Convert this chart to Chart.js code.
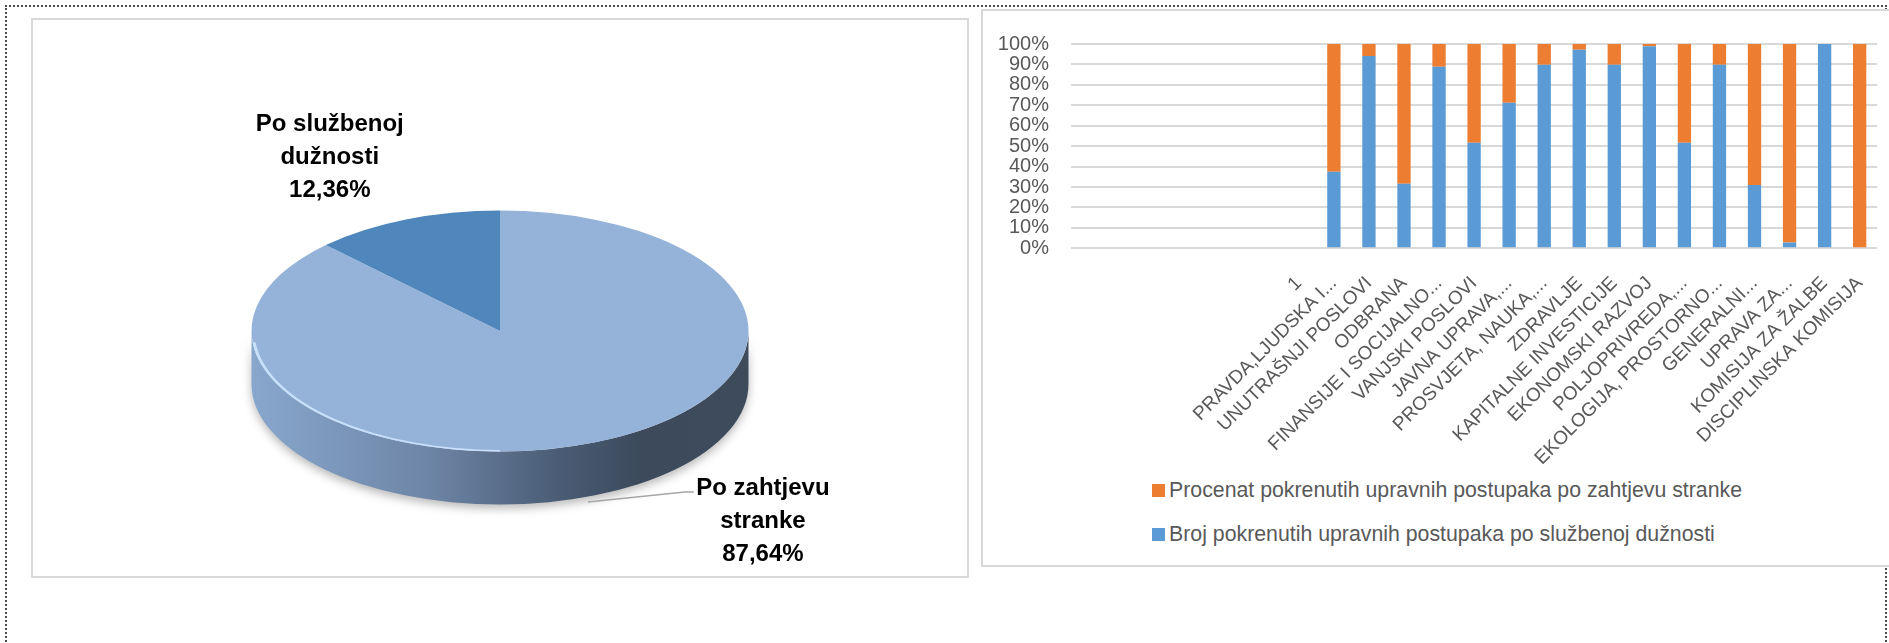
<!DOCTYPE html>
<html lang="sr">
<head>
<meta charset="utf-8">
<title>Upravni postupci</title>
<script src="https://cdn.jsdelivr.net/npm/chart.js@4.4.1/dist/chart.umd.min.js"></script>
<style>
    html, body { margin: 0; padding: 0; background: #fff; }
    body {
        width: 1889px; height: 643px; overflow: hidden; position: relative;
        font-family: "Liberation Sans", Arial, sans-serif;
    }
    .page-border {
        position: absolute; left: 5px; top: 5px; width: 1882px; height: 720px;
        border: 2px dotted #4d4d4d; box-sizing: border-box;
    }
    .box { position: absolute; border: 2px solid #d9d9d9; box-sizing: border-box; background: #fff; }
    #pieBox { left: 31px; top: 18px; width: 938px; height: 560px; }
    #barBox { left: 981px; top: 9px; width: 940px; height: 558px; }
    .chart-wrap { position: absolute; }
    #pieWrap { left: 33px; top: 20px; width: 934px; height: 556px; }
    #barWrap { left: 982px; top: 10px; width: 910px; height: 460px; }
    #barLegend { position: absolute; left: 1152px; top: 478px; }
    .legend-row { display: flex; align-items: center; height: 24px; margin-bottom: 20px; }
    .legend-box { width: 13px; height: 13px; margin-right: 4px; }
    .legend-text { font-size: 21.3px; color: #595959; white-space: nowrap; }
</style>
</head>
<body>
<div class="page-border"></div>
<div class="box" id="pieBox"></div>
<div class="box" id="barBox"></div>
<div class="chart-wrap" id="pieWrap"><canvas id="pieChart"></canvas></div>
<div class="chart-wrap" id="barWrap"><canvas id="barChart"></canvas></div>
<div id="barLegend"></div>

<script>
// Pie data
const pieLabels = ['Po zahtjevu stranke', 'Po službenoj dužnosti'];
const pieLabelLines = [['Po zahtjevu', 'stranke'], ['Po službenoj', 'dužnosti']];
const pieValues = [87.64, 12.36];
const pieColors = ['#95b3d9', '#4f86bb'];

// Bar data (100% stacked)
const categories = [
    '', '', '', '', '', '', '1',
    'PRAVDA,LJUDSKA I...',
    'UNUTRAŠNJI POSLOVI',
    'ODBRANA',
    'FINANSIJE I SOCIJALNO...',
    'VANJSKI POSLOVI',
    'JAVNA UPRAVA,...',
    'PROSVJETA, NAUKA,...',
    'ZDRAVLJE',
    'KAPITALNE INVESTICIJE',
    'EKONOMSKI RAZVOJ',
    'POLJOPRIVREDA,...',
    'EKOLOGIJA, PROSTORNO...',
    'GENERALNI...',
    'UPRAVA ZA...',
    'KOMISIJA ZA ŽALBE',
    'DISCIPLINSKA KOMISIJA'
];
const sluzbenaValues = [null, null, null, null, null, null, null,
    37.5, 94.1, 31.6, 88.9, 51.7, 71.2, 89.9, 97.2, 89.9, 98.9, 51.7, 89.9, 31.0, 2.8, 100, 0];
const zahtjevValues = [null, null, null, null, null, null, null,
    62.5, 5.9, 68.4, 11.1, 48.3, 28.8, 10.1, 2.8, 10.1, 1.1, 48.3, 10.1, 69.0, 97.2, 0, 100];
const yTicks = [0, 10, 20, 30, 40, 50, 60, 70, 80, 90, 100];

const seriesNames = [
    'Broj pokrenutih upravnih postupaka po službenoj dužnosti',
    'Procenat pokrenutih upravnih postupaka po zahtjevu stranke'
];
const seriesColors = ['#5b9bd5', '#ed7d31'];

const FONT = '"Liberation Sans", Arial, sans-serif';
Chart.defaults.font.family = FONT;

function formatPct(v) {
    return v.toFixed(2).replace('.', ',') + '%';
}

// tilts the pie into an ellipse and draws the side wall under it
const pie3d = {
    id: 'pie3d',
    beforeDatasetsDraw(chart, args, opts) {
        const arc = chart.getDatasetMeta(0).data[0];
        const x = arc.x, y = arc.y, r = arc.outerRadius;
        const ry = r * opts.tilt;
        const ctx = chart.ctx;

        ctx.save();
        const g = ctx.createLinearGradient(x - r, 0, x + r, 0);
        g.addColorStop(0, '#88a7cd');
        g.addColorStop(0.35, '#6e86a7');
        g.addColorStop(0.62, '#4a5c75');
        g.addColorStop(0.78, '#3c4a5c');
        g.addColorStop(1, '#3e4b5b');
        ctx.shadowColor = 'rgba(0,0,0,0.28)';
        ctx.shadowBlur = 10;
        ctx.shadowOffsetY = 4;
        ctx.beginPath();
        ctx.ellipse(x, y, r, ry, 0, 0, Math.PI);
        ctx.ellipse(x, y + opts.depth, r, ry, 0, Math.PI, 0, true);
        ctx.closePath();
        ctx.fillStyle = g;
        ctx.fill();
        ctx.restore();

        ctx.save();
        ctx.translate(x, y);
        ctx.scale(1, opts.tilt);
        ctx.translate(-x, -y);
    },
    afterDatasetsDraw(chart) {
        const arc = chart.getDatasetMeta(0).data[0];
        const ctx = chart.ctx;
        // light rim on the lower left edge
        ctx.beginPath();
        ctx.arc(arc.x, arc.y, arc.outerRadius - 1.5, Math.PI * 0.5, Math.PI * 0.97);
        ctx.strokeStyle = 'rgba(205,228,255,0.9)';
        ctx.lineWidth = 3;
        ctx.stroke();
        ctx.restore();
    }
};

const pieLabelPlugin = {
    id: 'pieLabels',
    afterDraw(chart, args, opts) {
        const meta = chart.getDatasetMeta(0);
        const ctx = chart.ctx;
        ctx.save();
        meta.data.forEach((arc, i) => {
            const r = arc.outerRadius;
            const pos = opts.positions[i];
            if (pos.leader) {
                ctx.beginPath();
                pos.leader.forEach((p, j) => {
                    const px = arc.x + p[0] * r, py = arc.y + p[1] * r;
                    if (j === 0) ctx.moveTo(px, py); else ctx.lineTo(px, py);
                });
                ctx.strokeStyle = '#a6a6a6';
                ctx.lineWidth = 1.5;
                ctx.stroke();
            }
            const lx = arc.x + pos.x * r;
            const ly = arc.y + pos.y * r;
            const lines = pieLabelLines[i].concat(formatPct(pieValues[i]));
            ctx.font = 'bold 24px ' + FONT;
            ctx.fillStyle = '#000';
            ctx.textAlign = 'center';
            ctx.textBaseline = 'middle';
            lines.forEach((t, j) => {
                ctx.fillText(t, lx, ly + (j - (lines.length - 1) / 2) * opts.lineHeight);
            });
        });
        ctx.restore();
    }
};

new Chart(document.getElementById('pieChart'), {
    type: 'pie',
    data: {
        labels: pieLabels,
        datasets: [{
            data: pieValues,
            backgroundColor: pieColors,
            borderWidth: 0,
            radius: 248.5,
            clip: false
        }]
    },
    options: {
        responsive: true,
        maintainAspectRatio: false,
        animation: false,
        layout: { padding: { top: 66, bottom: 0 } },
        plugins: {
            legend: { display: false },
            tooltip: { enabled: false },
            pie3d: { tilt: 0.485, depth: 53 },
            pieLabels: {
                lineHeight: 33,
                positions: [
                    { x: 1.058, y: 0.765, leader: [[0.354, 0.688], [0.744, 0.648], [0.78, 0.648]] },
                    { x: -0.685, y: -0.7 }
                ]
            }
        }
    },
    plugins: [pie3d, pieLabelPlugin]
});

new Chart(document.getElementById('barChart'), {
    type: 'bar',
    data: {
        labels: categories,
        datasets: [
            { label: seriesNames[0], data: sluzbenaValues, backgroundColor: seriesColors[0] },
            { label: seriesNames[1], data: zahtjevValues, backgroundColor: seriesColors[1] }
        ]
    },
    options: {
        responsive: true,
        maintainAspectRatio: false,
        animation: false,
        layout: { padding: { left: 11, right: 10, top: 27.7, bottom: 0 } },
        datasets: { bar: { categoryPercentage: 1, barPercentage: 0.38 } },
        plugins: {
            legend: { display: false },
            tooltip: { enabled: false }
        },
        scales: {
            x: {
                stacked: true,
                grid: { display: false },
                border: { display: false },
                ticks: {
                    autoSkip: false,
                    maxRotation: 45,
                    minRotation: 45,
                    padding: 16,
                    color: '#595959',
                    font: { size: 19 }
                },
                afterFit: function(scale) { scale.height = 221.7; }
            },
            y: {
                stacked: true,
                min: 0,
                max: 100,
                afterBuildTicks: function(scale) { scale.ticks = yTicks.map(v => ({ value: v })); },
                grid: { color: '#d9d9d9', lineWidth: 2, drawTicks: false },
                border: { display: false },
                ticks: {
                    autoSkip: false,
                    padding: 22,
                    color: '#595959',
                    font: { size: 20 },
                    callback: function(v) { return v + '%'; }
                },
                afterFit: function(scale) { scale.width = 78; }
            }
        }
    }
});

// legend, top entry is the orange series as in the original
const legendEl = document.getElementById('barLegend');
[1, 0].forEach(i => {
    const row = document.createElement('div');
    row.className = 'legend-row';
    row.innerHTML = '<span class="legend-box" style="background:' + seriesColors[i] + '"></span>' +
                    '<span class="legend-text">' + seriesNames[i] + '</span>';
    legendEl.appendChild(row);
});
</script>
</body>
</html>
